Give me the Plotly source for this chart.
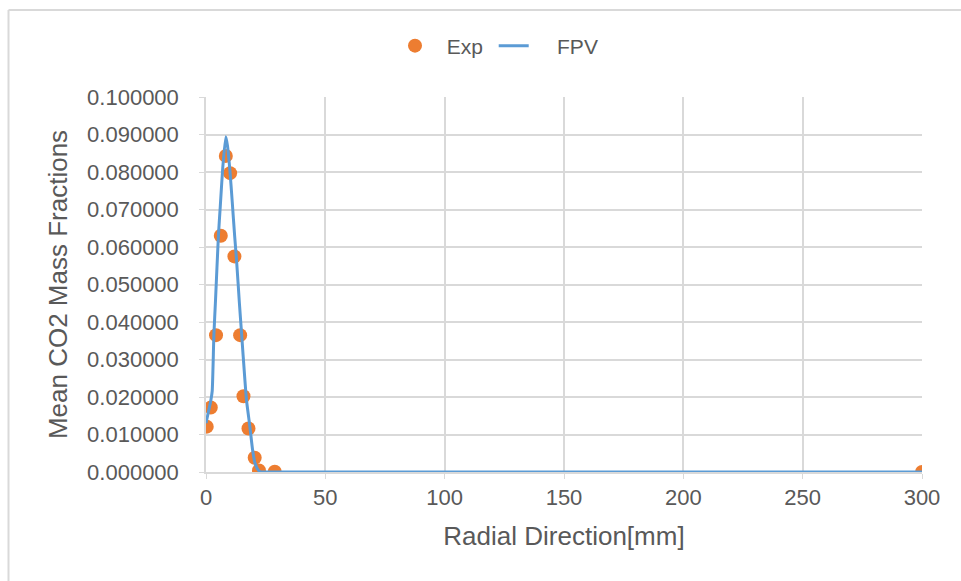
import plotly.graph_objects as go

# Experimental data
exp_x = [0.3, 2.0, 4.2, 6.2, 8.3, 10.1, 11.9, 14.3, 15.7, 17.8, 20.4, 22.2, 28.8, 300]
exp_y = [0.0121, 0.0172, 0.0365, 0.0630, 0.0843, 0.0797, 0.0575, 0.0365, 0.0202, 0.0116, 0.0038, 0.0004, 0.0001, 0.0]

# FPV simulation curve
fpv_x = [0, 1, 2, 2.6, 3.3, 4, 5.2, 6, 7, 8.3, 9, 10, 11, 12, 12.8, 14, 14.9, 16.3, 17, 18.4, 19.5, 20.5, 21.9, 23, 24, 300]
fpv_y = [0.0130, 0.0160, 0.0190, 0.0216, 0.0365, 0.0460, 0.0630, 0.0710, 0.0810, 0.0894, 0.0870, 0.0805, 0.0720, 0.0630, 0.0565, 0.0450, 0.0370, 0.0245, 0.0190, 0.0120, 0.0060, 0.0024, 0.0005, 0.0, 0.0, 0.0]

y_ticks = [i / 100 for i in range(11)]
y_tick_text = [f"{v:.6f}" for v in y_ticks]
x_ticks = [0, 50, 100, 150, 200, 250, 300]

FONT = "Liberation Sans, Arial, sans-serif"
GRAY = "#595959"
GRID = "#d9d9d9"
NBSP = "\u00a0"

L, R, T, B = 206, 39, 97, 109
W, H = 961, 581
pw, ph = W - L - R, H - T - B


def px_to_paper_x(px):
    return (px - L) / pw


def px_to_paper_y(py):
    return (H - B - py) / ph


fig = go.Figure()
fig.add_trace(go.Scatter(x=exp_x, y=exp_y, mode="markers", name=NBSP * 2 + "Exp" + NBSP,
                         marker=dict(color="#ED7D31", size=14)))
fig.add_trace(go.Scatter(x=fpv_x, y=fpv_y, mode="lines", name=NBSP * 4 + "FPV",
                         line=dict(color="#5B9BD5", width=3, shape="spline", smoothing=0.5)))

fig.update_layout(
    width=W, height=H,
    margin=dict(l=L, r=R, t=T, b=B),
    paper_bgcolor="white", plot_bgcolor="white",
    font=dict(family=FONT, color=GRAY, size=20),
    showlegend=True,
    legend=dict(orientation="h", x=px_to_paper_x(395), xanchor="left",
                y=px_to_paper_y(46), yanchor="middle", bgcolor="rgba(0,0,0,0)",
                font=dict(size=21, color=GRAY)),
    xaxis=dict(range=[0, 300], tickvals=x_ticks, showgrid=True, gridcolor=GRID, gridwidth=1.5,
               zeroline=False, showline=True, linecolor=GRID, linewidth=1.5,
               ticks="outside", ticklen=5, tickcolor=GRID,
               tickfont=dict(size=22, color=GRAY),
               title=dict(text="Radial Direction[mm]", font=dict(size=26, color=GRAY), standoff=18)),
    yaxis=dict(range=[0, 0.1], tickvals=y_ticks, ticktext=y_tick_text, showgrid=True, gridcolor=GRID,
               gridwidth=1.5, zeroline=False, showline=True, linecolor=GRID, linewidth=1.5,
               ticks="outside", ticklen=5, tickcolor=GRID, ticklabelstandoff=16,
               tickfont=dict(size=22, color=GRAY),
               title=dict(text="Mean CO2 Mass Fractions", font=dict(size=26, color=GRAY), standoff=12)),
)

# Chart-area border (top and left only visible)
fig.add_shape(type="line", xref="paper", yref="paper",
              x0=px_to_paper_x(8.5), x1=px_to_paper_x(961), y0=px_to_paper_y(10), y1=px_to_paper_y(10),
              line=dict(color=GRID, width=2))
fig.add_shape(type="line", xref="paper", yref="paper",
              x0=px_to_paper_x(8.5), x1=px_to_paper_x(8.5), y0=px_to_paper_y(10), y1=px_to_paper_y(581),
              line=dict(color=GRID, width=2))

fig.write_html("out.html")
